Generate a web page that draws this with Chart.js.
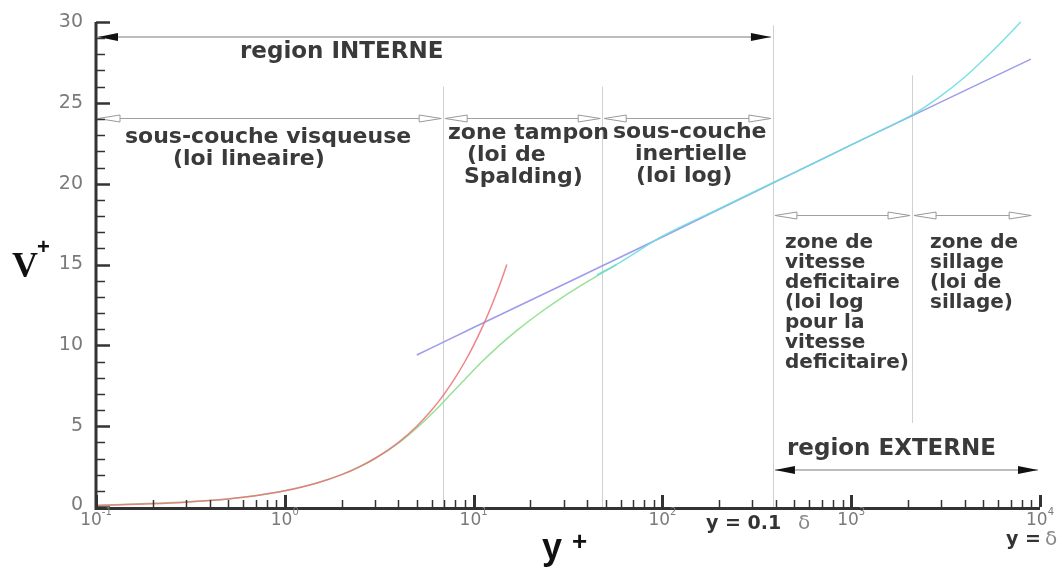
<!DOCTYPE html>
<html>
<head>
<meta charset="utf-8">
<script src="https://cdn.jsdelivr.net/npm/chart.js@4"></script>
<style>
  body { margin: 0; background: #fff; }
  canvas { display: block; }
</style>
</head>
<body>
<canvas id="profileChart" width="1063" height="570"></canvas>
<script>
// linear law (red)
const linearY = [0.1, 0.15, 0.2, 0.3, 0.4, 0.5, 0.7, 1, 1.5, 2, 2.5, 3, 4, 5, 6, 7, 8, 9, 10, 11, 12, 13, 14, 15];
const linearU = [0.1, 0.15, 0.2, 0.3, 0.4, 0.5, 0.7, 1, 1.5, 2, 2.5, 3, 4, 5, 6, 7, 8, 9, 10, 11, 12, 13, 14, 15];
// Spalding law (green)
const spaldingY = [0.1, 0.5, 1, 2, 3, 4.05, 5.12, 6.29, 7.6, 9.16, 11.1, 13.7, 17.3, 22.4, 29.8, 40.9, 57.3];
const spaldingU = [0.1, 0.5, 1, 2, 3, 4, 5, 6, 7, 8, 9, 10, 11, 12, 13, 14, 15];
// log law (blue)
const logY = [5, 10, 100, 1000, 8950];
const logU = [9.4, 11.1, 16.7, 22.4, 27.7];
// wake law (cyan)
const wakeY = [45, 60, 100, 200, 400, 700, 1000, 1500, 2100, 3000, 4000, 5000, 6000, 7000, 7900];
const wakeU = [14.35, 15.15, 16.75, 18.45, 20.15, 21.5, 22.4, 23.4, 24.25, 25.45, 26.6, 27.65, 28.55, 29.35, 30.0];

// axis ticks
const yTicks = [0, 5, 10, 15, 20, 25, 30];
const xDecades = [-1, 0, 1, 2, 3, 4];

// zone dividers (y+) and their vertical extent (V+)
const dividerX = [6.9, 48, 385, 2100];
const dividerTop = [26, 26, 29.8, 26.7];
const dividerBottom = [0, 0, 0, 5.2];
// zone arrows: [from y+, to y+, at V+]
const zoneArrows = [[0.1, 6.9, 24.05], [6.9, 48, 24.05], [48, 385, 24.05], [385, 2100, 18.05], [2100, 9200, 18.05]];
const regionArrows = [[0.1, 385, 29.1], [385, 10000, 2.28]];

const textColor = '#3a3a3a';
const zoneFont = 'bold 22px "DejaVu Sans"';
const zoneFontSmall = 'bold 20px "DejaVu Sans"';
const zoneLabels = [
    { t: 'sous-couche visqueuse', x: 125, y: 137, f: zoneFont },
    { t: '(loi lineaire)', x: 173, y: 159, f: zoneFont },
    { t: 'zone tampon', x: 448, y: 133, f: zoneFont },
    { t: '(loi de', x: 467, y: 155, f: zoneFont },
    { t: 'Spalding)', x: 464, y: 177, f: zoneFont },
    { t: 'sous-couche', x: 613, y: 132, f: zoneFont },
    { t: 'inertielle', x: 635, y: 154, f: zoneFont },
    { t: '(loi log)', x: 636, y: 176, f: zoneFont },
    { t: 'zone de', x: 785, y: 243, f: zoneFontSmall },
    { t: 'vitesse', x: 785, y: 263, f: zoneFontSmall },
    { t: 'deficitaire', x: 785, y: 283, f: zoneFontSmall },
    { t: '(loi log', x: 785, y: 303, f: zoneFontSmall },
    { t: 'pour la', x: 785, y: 323, f: zoneFontSmall },
    { t: 'vitesse', x: 785, y: 343, f: zoneFontSmall },
    { t: 'deficitaire)', x: 785, y: 363, f: zoneFontSmall },
    { t: 'zone de', x: 930, y: 243, f: zoneFontSmall },
    { t: 'sillage', x: 930, y: 263, f: zoneFontSmall },
    { t: '(loi de', x: 930, y: 283, f: zoneFontSmall },
    { t: 'sillage)', x: 930, y: 303, f: zoneFontSmall },
    { t: 'region INTERNE', x: 240, y: 52, f: 'bold 23px "DejaVu Sans"' },
    { t: 'region EXTERNE', x: 787, y: 449, f: 'bold 23px "DejaVu Sans"' },
];

function pts(xs, ys) {
    return xs.map((v, i) => ({ x: v, y: ys[i] }));
}

function drawArrow(ctx, x1, x2, yy, filled) {
    const len = filled ? 20 : 22;
    const h = filled ? 4 : 3.5;
    ctx.beginPath();
    ctx.moveTo(x1 + 2, yy);
    ctx.lineTo(x2 - 2, yy);
    ctx.strokeStyle = filled ? '#bdbdbd' : '#a0a0a0';
    ctx.lineWidth = filled ? 2 : 1;
    ctx.stroke();
    [[x1 + 2, 1], [x2 - 2, -1]].forEach(([tip, dir]) => {
        ctx.beginPath();
        ctx.moveTo(tip, yy);
        ctx.lineTo(tip + dir * len, yy - h);
        ctx.lineTo(tip + dir * len, yy + h);
        ctx.closePath();
        if (filled) {
            ctx.fillStyle = '#111';
            ctx.fill();
        } else {
            ctx.fillStyle = '#fff';
            ctx.fill();
            ctx.strokeStyle = '#999';
            ctx.lineWidth = 1;
            ctx.stroke();
        }
    });
}

const overlay = {
    id: 'overlay',
    beforeDatasetsDraw(chart) {
        const { ctx, scales: { x, y } } = chart;
        ctx.save();
        ctx.strokeStyle = '#d0d0d0';
        ctx.lineWidth = 1;
        dividerX.forEach((v, i) => {
            const px = Math.round(x.getPixelForValue(v)) + 0.5;
            ctx.beginPath();
            ctx.moveTo(px, y.getPixelForValue(dividerTop[i]));
            ctx.lineTo(px, y.getPixelForValue(dividerBottom[i]));
            ctx.stroke();
        });
        zoneArrows.forEach(([a, b, v]) => {
            drawArrow(ctx, x.getPixelForValue(a), x.getPixelForValue(b), Math.round(y.getPixelForValue(v)) + 0.5, false);
        });
        regionArrows.forEach(([a, b, v]) => {
            drawArrow(ctx, x.getPixelForValue(a), x.getPixelForValue(b), Math.round(y.getPixelForValue(v)), true);
        });
        ctx.restore();
    },
    afterDatasetsDraw(chart) {
        const { ctx, chartArea: area, scales: { x, y } } = chart;
        ctx.save();
        ctx.strokeStyle = '#333';
        ctx.lineCap = 'butt';

        // axis lines
        ctx.lineWidth = 3;
        ctx.beginPath();
        ctx.moveTo(area.left, area.top);
        ctx.lineTo(area.left, area.bottom + 1.5);
        ctx.lineTo(area.right, area.bottom + 1.5);
        ctx.stroke();

        // y ticks, pointing inwards
        for (let v = 0; v <= 30; v++) {
            const py = Math.round(y.getPixelForValue(v)) + 0.5;
            const major = v % 5 === 0;
            ctx.lineWidth = major ? 2.5 : 1.5;
            ctx.beginPath();
            ctx.moveTo(area.left, py);
            ctx.lineTo(area.left + (major ? 14 : 9), py);
            ctx.stroke();
        }
        // x ticks
        xDecades.forEach(d => {
            for (let k = 1; k <= 9; k++) {
                if (d === 4 && k > 1) break;
                const px = Math.round(x.getPixelForValue(k * Math.pow(10, d))) + 0.5;
                ctx.lineWidth = k === 1 ? 3 : 1.5;
                ctx.beginPath();
                ctx.moveTo(px, area.bottom);
                ctx.lineTo(px, area.bottom - (k === 1 ? 12 : 7));
                ctx.stroke();
            }
        });

        // tick labels
        ctx.fillStyle = '#7a7a7a';
        ctx.font = '19px "DejaVu Sans"';
        ctx.textAlign = 'right';
        ctx.textBaseline = 'middle';
        yTicks.forEach(v => {
            ctx.fillText(String(v), 83, y.getPixelForValue(v) - (v === 0 ? 2 : 0));
        });
        ctx.textAlign = 'left';
        ctx.textBaseline = 'alphabetic';
        xDecades.forEach(d => {
            const px = x.getPixelForValue(Math.pow(10, d));
            ctx.font = '17px "DejaVu Sans"';
            const w1 = ctx.measureText('10').width;
            ctx.font = '10px "DejaVu Sans"';
            const w2 = ctx.measureText(String(d)).width;
            const left = px - (w1 + w2) / 2;
            ctx.font = '17px "DejaVu Sans"';
            ctx.fillText('10', left, 525);
            ctx.font = '10px "DejaVu Sans"';
            ctx.fillText(String(d), left + w1, 515);
        });

        // zone labels
        ctx.fillStyle = textColor;
        ctx.textBaseline = 'middle';
        zoneLabels.forEach(l => {
            ctx.font = l.f;
            ctx.fillText(l.t, l.x, l.y);
        });

        // axis titles
        ctx.fillStyle = '#111';
        ctx.textBaseline = 'alphabetic';
        ctx.font = 'bold 36px "Liberation Serif"';
        ctx.fillText('V', 12, 277);
        ctx.font = 'bold 22px "Liberation Sans"';
        ctx.fillText('+', 37, 254);
        ctx.font = 'bold 36px "Liberation Sans"';
        ctx.fillText('y', 542, 559);
        ctx.font = 'bold 26px "Liberation Sans"';
        ctx.fillText('+', 572, 550);

        // y = 0.1 delta and y = delta
        ctx.fillStyle = '#333';
        ctx.font = 'bold 19px "DejaVu Sans"';
        ctx.fillText('y = 0.1', 706, 529);
        ctx.fillText('y =', 1006, 545);
        ctx.fillStyle = '#888';
        ctx.font = '20px "DejaVu Sans"';
        ctx.fillText('δ', 798, 529);
        ctx.fillText('δ', 1045, 545);
        ctx.restore();
    }
};

const chartCtx = document.getElementById('profileChart').getContext('2d');
new Chart(chartCtx, {
    type: 'line',
    data: {
        datasets: [
            { data: pts(linearY, linearU), borderColor: 'rgba(236,110,120,0.85)' },
            { data: pts(wakeY, wakeU), borderColor: 'rgba(110,222,222,0.9)' },
            { data: pts(logY, logU), borderColor: 'rgba(145,145,232,0.9)' },
            { data: pts(spaldingY, spaldingU), borderColor: 'rgba(140,222,140,0.9)' },
        ]
    },
    options: {
        responsive: false,
        animation: false,
        layout: { padding: { left: 96, right: 23, top: 22, bottom: 63 } },
        plugins: { legend: { display: false }, tooltip: { enabled: false } },
        elements: {
            point: { radius: 0 },
            line: { borderWidth: 1.5, cubicInterpolationMode: 'monotone', fill: false }
        },
        datasets: { line: { clip: false } },
        scales: {
            x: { type: 'logarithmic', min: 0.1, max: 10000, display: false },
            y: { type: 'linear', min: 0, max: 30, display: false }
        }
    },
    plugins: [overlay]
});
</script>
</body>
</html>
